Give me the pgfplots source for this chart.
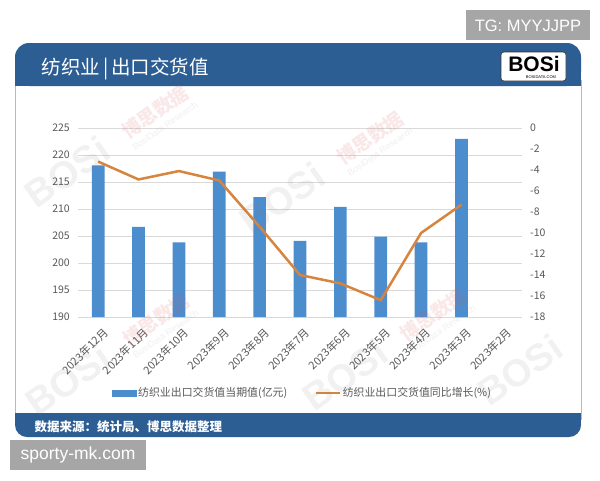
\documentclass[border=0pt]{standalone}
\usepackage{fontspec}
\setmainfont{Noto Sans CJK SC}
\newfontfamily\arialf{Liberation Sans}
\usepackage{pgfplots}
\usepackage{pgfplotstable}
\pgfplotsset{compat=1.18}

\definecolor{headblue}{RGB}{44,94,148}
\definecolor{barblue}{RGB}{76,141,206}
\definecolor{lineorange}{RGB}{214,132,62}
\definecolor{boxgray}{RGB}{166,166,166}
\definecolor{gridgray}{RGB}{217,217,217}
\definecolor{ticktext}{RGB}{89,89,89}
\definecolor{wmpink}{RGB}{220,90,90}

% monthly export delivery value (100m yuan) and YoY growth (%)
\pgfplotstableread{
idx val yoy
0 218.1 -3.2
1 206.7 -4.9
2 203.8 -4.1
3 216.9 -5.0
4 212.2 -9.4
5 204.1 -14.0
6 210.4 -14.8
7 204.9 -16.4
8 203.8 -10.0
9 223.0 -7.3
}\exportdata

\newcommand{\tickfont}{\fontsize{10.5}{12}\selectfont}

\begin{document}
\begin{tikzpicture}[x=1pt,y=-1pt]
\useasboundingbox (0,0) rectangle (600,480);
\fill[white] (0,0) rectangle (600,480);

% watermark box top right
\fill[boxgray] (466,10) rectangle (590,40);
\node[text=white, font=\arialf\fontsize{16.5}{18}\selectfont] at (528,25.5) {TG: MYYJJPP};

% card
\fill[white] (15,80) rectangle (581,420);
\draw[gray!55, line width=0.8pt] (15,80) -- (15,420) (581,80) -- (581,420);
\fill[headblue, rounded corners=14pt] (15,43) rectangle (581,86);
\fill[headblue] (15,65) rectangle (581,86);
\node[anchor=west, text=white, font=\fontsize{19.5}{22}\selectfont] at (38,69) {纺织业\hspace{3pt}|\hspace{3pt}出口交货值};

% logo
\fill[white, draw=black!80, line width=0.6pt, rounded corners=3pt] (501,52) rectangle (566,81);
\node[font=\arialf\bfseries\fontsize{21}{22}\selectfont, text=black] at (534,64) {BOSi};
\node[font=\arialf\fontsize{4}{5}\selectfont, text=black] at (541,77) {BOSIDATA.COM};

% footer
\fill[headblue, rounded corners=12pt] (15,413) rectangle (581,437);
\fill[headblue] (15,413) rectangle (581,424);
\node[anchor=west, text=white, font=\bfseries\fontsize{12.5}{14}\selectfont] at (31,427) {数据来源：统计局、博思数据整理};

% site box bottom left
\fill[boxgray] (10,440) rectangle (146,470);
\node[text=white, font=\arialf\fontsize{17.5}{19}\selectfont] at (78,455) {sporty-mk.com};

\begin{axis}[
  at={(78pt,-317pt)}, anchor=south west,
  scale only axis, width=444pt, height=189pt,
  xmin=-0.5, xmax=10.5, ymin=190, ymax=225,
  ybar, bar width=12.7pt,
  xtick={0,...,10},
  xticklabels={2023年12月,2023年11月,2023年10月,2023年9月,2023年8月,2023年7月,2023年6月,2023年5月,2023年4月,2023年3月,2023年2月},
  x tick label style={rotate=45, anchor=east, inner sep=0pt, yshift=-12pt, xshift=-1pt, font=\fontsize{11}{12}\selectfont, text=ticktext},
  ytick={190,195,...,225},
  y tick label style={font=\tickfont, text=ticktext, inner sep=0pt, xshift=-8pt},
  /pgf/number format/assume math mode=true,
  ymajorgrids, major grid style={gridgray, line width=0.8pt},
  axis line style={draw=none}, major tick style={draw=none},
]
  \addplot[fill=barblue, draw=none] table[x=idx, y=val] {\exportdata};
\end{axis}

\begin{axis}[
  at={(78pt,-317pt)}, anchor=south west,
  scale only axis, width=444pt, height=189pt,
  xmin=-0.5, xmax=10.5, ymin=-18, ymax=0,
  hide x axis, axis y line*=right,
  ytick={-18,-16,...,0},
  y tick label style={font=\tickfont, text=ticktext, inner sep=0pt, xshift=8pt},
  /pgf/number format/assume math mode=true,
  axis line style={draw=none}, major tick style={draw=none},
  legend columns=2,
  legend style={at={(0.07,-0.402)}, anchor=west, draw=none, fill=none,
    font=\fontsize{10.9}{12}\selectfont, text=ticktext,
    nodes={inner sep=1.5pt},
    /tikz/every even column/.append style={column sep=26pt}},
]
  \addlegendimage{legend image code/.code={\fill[barblue] (0pt,-3pt) rectangle (24pt,3pt);}}
  \addlegendentry{纺织业出口交货值当期值(亿元)}
  \addplot[lineorange, line width=2.5pt,
    legend image code/.code={\draw[lineorange, line width=2.5pt] (0pt,0pt) -- (24pt,0pt);}]
    table[x=idx, y=yoy] {\exportdata};
  \addlegendentry{纺织业出口交货值同比增长(\%)}
\end{axis}

% faint watermarks laid over the card
\foreach \wx/\wy in {67/172, 282/198, 68/380, 345/375, 520/370}
  \node[rotate=35, opacity=0.11, text=gray, font=\arialf\bfseries\fontsize{38}{40}\selectfont] at (\wx,\wy) {BOSi};
\foreach \wx/\wy in {67/172, 282/198, 68/380, 345/375} {
  \node[rotate=35, opacity=0.14, text=wmpink, font=\bfseries\fontsize{19}{21}\selectfont] at ({\wx+88},{\wy-60}) {博思数据};
  \node[rotate=35, opacity=0.12, text=gray, font=\arialf\fontsize{9}{10}\selectfont] at ({\wx+98},{\wy-46}) {BosiData Research};
}
\end{tikzpicture}
\end{document}
